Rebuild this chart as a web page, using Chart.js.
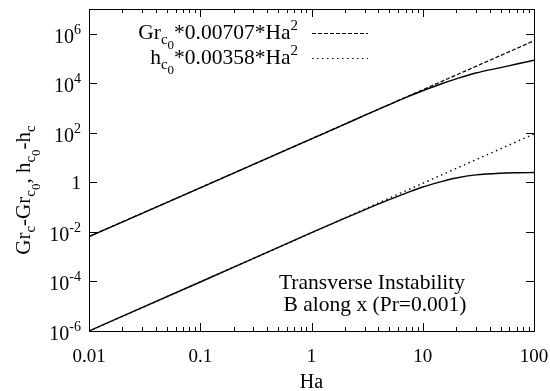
<!DOCTYPE html>
<html>
<head>
<meta charset="utf-8">
<script src="https://cdn.jsdelivr.net/npm/chart.js@4/dist/chart.umd.min.js"></script>
<style>
  html, body { margin: 0; padding: 0; background: #fff; }
  #wrap { width: 550px; height: 391px; }
</style>
</head>
<body>
<div id="wrap"><canvas id="chart" width="550" height="391"></canvas></div>
<script>
// Data (log-log)
const haSolid = [0.01, 0.1, 1, 2, 3, 5, 7, 10, 15, 20, 30, 50, 70, 100];
const grSolid = [6.5e-3, 0.6, 57, 225, 505, 1.38e3, 2.65e3, 5.0e3, 9.8e3, 1.5e4, 2.6e4, 4.3e4, 6.0e4, 8.5e4];
const hSolid  = [1e-6, 9.5e-5, 9.3e-3, 3.6e-2, 7.8e-2, 0.2, 0.36, 0.65, 1.1, 1.5, 2.0, 2.35, 2.45, 2.5];

const haFit = [0.01, 0.1, 1, 10, 100];
const grFit = [6.5e-3, 0.61, 58, 5.5e3, 5.2e5];
const hFit  = [1e-6, 9.5e-5, 9.3e-3, 0.92, 90];

// Axis ticks
const xMajor = [0.01, 0.1, 1, 10, 100];
const xLabels = ['0.01', '0.1', '1', '10', '100'];
const yMajor = [1e-6, 1e-4, 1e-2, 1, 1e2, 1e4, 1e6];
const yExp = ['-6', '-4', '-2', null, '2', '4', '6'];

const FONT = '"Liberation Serif", "Times New Roman", serif';

function pts(xs, ys) {
    return xs.map((x, i) => ({ x: x, y: ys[i] }));
}

// rich text: segs = [[text, level]], level 0 normal, 1 sup, -1 sub, -2 subsub
function segSize(lvl, size) {
    if (lvl === 0) return size;
    if (lvl === -2) return Math.round(size * 0.6);
    return Math.round(size * 0.72);
}
function segOff(lvl) {
    if (lvl === 1) return -9;
    if (lvl === -1) return 5;
    if (lvl === -2) return 10;
    return 0;
}
function richWidth(ctx, segs, size) {
    let w = 0;
    segs.forEach(s => {
        ctx.font = segSize(s[1], size) + 'px ' + FONT;
        w += ctx.measureText(s[0]).width;
    });
    return w;
}
function drawRich(ctx, segs, x, y, align, size) {
    const w = richWidth(ctx, segs, size);
    let cx = align === 'right' ? x - w : (align === 'center' ? x - w / 2 : x);
    ctx.textAlign = 'left';
    ctx.textBaseline = 'alphabetic';
    segs.forEach(s => {
        ctx.font = segSize(s[1], size) + 'px ' + FONT;
        ctx.fillText(s[0], cx, y + segOff(s[1]));
        cx += ctx.measureText(s[0]).width;
    });
}

const decor = {
    id: 'decor',
    afterDraw(chart) {
        const ctx = chart.ctx;
        const a = chart.chartArea;
        const xs = chart.scales.x, ys = chart.scales.y;
        ctx.save();
        ctx.strokeStyle = '#000';
        ctx.fillStyle = '#000';
        ctx.lineWidth = 1;

        // frame
        ctx.strokeRect(Math.round(a.left) + 0.5, Math.round(a.top) + 0.5,
            Math.round(a.right - a.left), Math.round(a.bottom - a.top));

        // x ticks (major + minor, mirrored top)
        ctx.beginPath();
        for (let d = 0; d < xMajor.length; d++) {
            for (let m = 1; m <= 9; m++) {
                const v = xMajor[d] * m;
                if (v > 100) break;
                const px = Math.round(xs.getPixelForValue(v)) + 0.5;
                const len = m === 1 ? 8 : 4;
                ctx.moveTo(px, a.bottom); ctx.lineTo(px, a.bottom - len);
                ctx.moveTo(px, a.top); ctx.lineTo(px, a.top + len);
            }
        }
        // y ticks, mirrored right
        yMajor.forEach(v => {
            const py = Math.round(ys.getPixelForValue(v)) + 0.5;
            ctx.moveTo(a.left, py); ctx.lineTo(a.left + 8, py);
            ctx.moveTo(a.right, py); ctx.lineTo(a.right - 8, py);
        });
        ctx.stroke();

        // x labels
        ctx.font = '19px ' + FONT;
        ctx.textAlign = 'center';
        ctx.textBaseline = 'alphabetic';
        xMajor.forEach((v, i) => {
            ctx.fillText(xLabels[i], xs.getPixelForValue(v), 362);
        });
        ctx.font = '20px ' + FONT;
        ctx.fillText('Ha', (a.left + a.right) / 2, 388);

        // y labels
        yMajor.forEach((v, i) => {
            const py = ys.getPixelForValue(v);
            if (yExp[i] === null) {
                drawRich(ctx, [['1', 0]], 81, py + 6.5, 'right', 19);
            } else {
                drawRich(ctx, [['10', 0], [yExp[i], 1]], 81, py + 9, 'right', 20);
            }
        });

        // y title (rotated)
        ctx.save();
        ctx.translate(30, 190);
        ctx.rotate(-Math.PI / 2);
        drawRich(ctx, [['Gr', 0], ['c', -1], ['-Gr', 0], ['c', -1], ['0', -2], [', h', 0], ['c', -1], ['0', -2], ['-h', 0], ['c', -1]], 0, 0, 'center', 21);
        ctx.restore();

        // legend
        drawRich(ctx, [['Gr', 0], ['c', -1], ['0', -2], ['*0.00707*Ha', 0], ['2', 1]], 298, 39, 'right', 21.5);
        drawRich(ctx, [['h', 0], ['c', -1], ['0', -2], ['*0.00358*Ha', 0], ['2', 1]], 298, 64, 'right', 21.5);
        ctx.lineWidth = 1;
        ctx.setLineDash([4, 2]);
        ctx.beginPath(); ctx.moveTo(312, 33.5); ctx.lineTo(368, 33.5); ctx.stroke();
        ctx.setLineDash([1.5, 3.5]);
        ctx.beginPath(); ctx.moveTo(312, 58.5); ctx.lineTo(368, 58.5); ctx.stroke();
        ctx.setLineDash([]);

        // annotation
        ctx.font = '21.5px ' + FONT;
        ctx.textAlign = 'center';
        ctx.fillText('Transverse Instability', 372, 289);
        ctx.fillText('B along x (Pr=0.001)', 375, 311);
        ctx.restore();
    }
};

const lineStyle = { borderColor: '#000', borderWidth: 1.4, pointRadius: 0, fill: false, cubicInterpolationMode: 'monotone' };

new Chart(document.getElementById('chart'), {
    type: 'line',
    data: {
        datasets: [
            Object.assign({ label: 'Gr solid', data: pts(haSolid, grSolid) }, lineStyle),
            Object.assign({ label: 'Gr fit', data: pts(haFit, grFit), borderDash: [4, 2] }, lineStyle, { borderWidth: 1.2 }),
            Object.assign({ label: 'h fit', data: pts(haFit, hFit), borderDash: [1.5, 3.5] }, lineStyle, { borderWidth: 1.4 }),
            Object.assign({ label: 'h solid', data: pts(haSolid, hSolid) }, lineStyle)
        ]
    },
    options: {
        responsive: false,
        animation: false,
        devicePixelRatio: 1,
        layout: { padding: { top: 9, right: 16, left: 0, bottom: 0 } },
        plugins: { legend: { display: false }, tooltip: { enabled: false } },
        scales: {
            x: {
                type: 'logarithmic', min: 0.01, max: 100,
                ticks: { display: false }, grid: { display: false }, border: { display: false },
                afterFit: s => { s.height = 60; }
            },
            y: {
                type: 'logarithmic', min: 1e-6, max: 1e7,
                ticks: { display: false }, grid: { display: false }, border: { display: false },
                afterFit: s => { s.width = 89; }
            }
        }
    },
    plugins: [decor]
});
</script>
</body>
</html>
